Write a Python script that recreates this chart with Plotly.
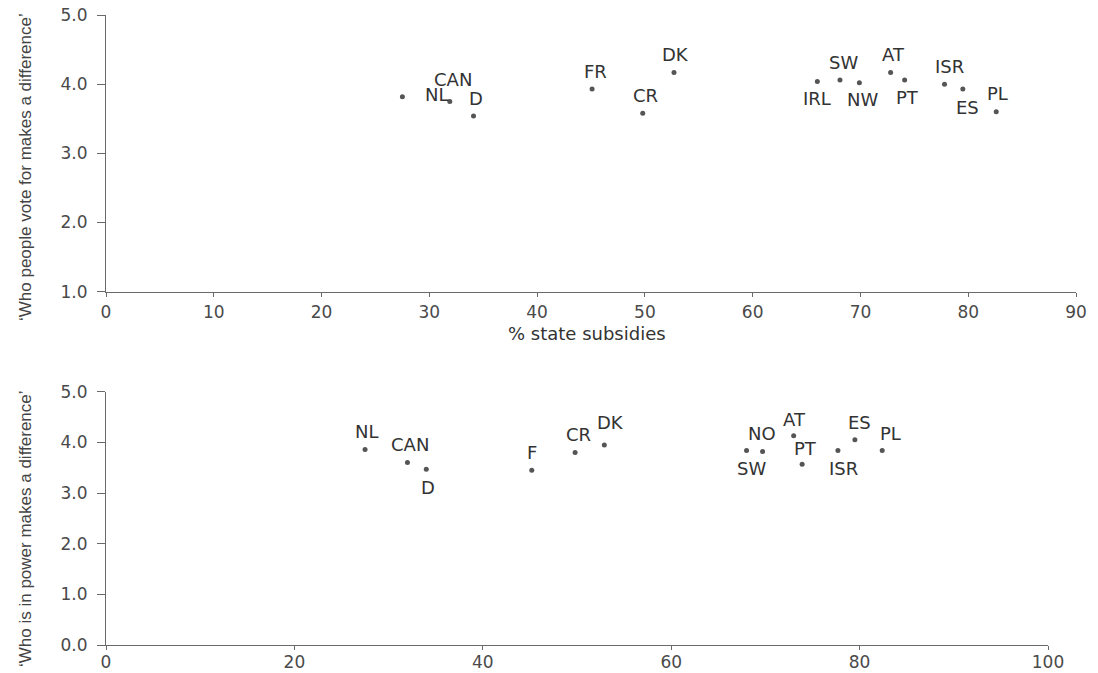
import plotly.graph_objects as go

# ---- Data: top panel ('Who people vote for makes a difference') ----
top_countries = ["NL", "CAN", "D", "FR", "DK", "CR", "IRL", "SW", "NW", "AT", "PT", "ISR", "ES", "PL"]
top_subsidy = [27.5, 31.9, 34.1, 45.1, 52.7, 49.8, 66.0, 68.1, 69.9, 72.8, 74.1, 77.8, 79.5, 82.6]
top_vote = [3.82, 3.75, 3.54, 3.93, 4.17, 3.58, 4.04, 4.06, 4.02, 4.17, 4.06, 4.00, 3.93, 3.60]

# ---- Data: bottom panel ('Who is in power makes a difference') ----
bot_countries = ["NL", "CAN", "D", "F", "CR", "DK", "SW", "NO", "AT", "PT", "ISR", "ES", "PL"]
bot_subsidy = [27.5, 32.0, 34.0, 45.2, 49.8, 52.9, 68.0, 69.7, 73.0, 73.9, 77.7, 79.5, 82.4]
bot_power = [3.86, 3.60, 3.47, 3.45, 3.80, 3.95, 3.84, 3.82, 4.13, 3.57, 3.84, 4.05, 3.84]

top_xticks = [0, 10, 20, 30, 40, 50, 60, 70, 80, 90]
top_yticks = [1.0, 2.0, 3.0, 4.0, 5.0]
bot_xticks = [0, 20, 40, 60, 80, 100]
bot_yticks = [0.0, 1.0, 2.0, 3.0, 4.0, 5.0]

x_title = "% state subsidies"
top_ytitle = "\u2018Who people vote for makes a difference\u2019"
bot_ytitle = "\u2018Who is in power makes a difference\u2019"

# label offsets in pixels (xshift, yshift) relative to marker
top_offsets = {"NL": (35, 2), "CAN": (3, 22), "D": (2, 18), "FR": (3, 18), "DK": (2, 18),
               "CR": (3, 18), "IRL": (0, -17), "SW": (4, 18), "NW": (3, -17), "AT": (3, 18),
               "PT": (3, -17), "ISR": (5, 18), "ES": (5, -18), "PL": (1, 18)}
bot_offsets = {"NL": (2, 18), "CAN": (3, 18), "D": (2, -18), "F": (0, 18), "CR": (3, 18),
               "DK": (6, 22), "SW": (5, -18), "NO": (-1, 18), "AT": (1, 16), "PT": (3, 16),
               "ISR": (6, -18), "ES": (5, 17), "PL": (8, 17)}

# The page body has an 8px margin; size the figure to fit the 1098x673 window.
OFF = 8
W, H = 1098 - OFF, 673 - OFF


def px(x):
    return (x - OFF) / W


def py(y):
    return 1 - (y - OFF) / H


AXIS_COLOR = "#6a6a6a"
TICK_FONT = dict(family="DejaVu Sans", size=17, color="#4a4a4a")
LABEL_FONT = dict(family="DejaVu Sans", size=18, color="#333333")
TITLE_FONT = dict(family="Liberation Sans", size=17, color="#444444")

fig = go.Figure()
fig.add_trace(go.Scatter(x=top_subsidy, y=top_vote, mode="markers",
                         marker=dict(size=5, color="#555555"), xaxis="x", yaxis="y",
                         hoverinfo="skip", showlegend=False))
fig.add_trace(go.Scatter(x=bot_subsidy, y=bot_power, mode="markers",
                         marker=dict(size=5, color="#555555"), xaxis="x2", yaxis="y2",
                         hoverinfo="skip", showlegend=False))

annotations = []
for c, xv, yv in zip(top_countries, top_subsidy, top_vote):
    dx, dy = top_offsets[c]
    annotations.append(dict(x=xv, y=yv, xref="x", yref="y", text=c, showarrow=False,
                            xshift=dx, yshift=dy, font=LABEL_FONT))
for c, xv, yv in zip(bot_countries, bot_subsidy, bot_power):
    dx, dy = bot_offsets[c]
    annotations.append(dict(x=xv, y=yv, xref="x2", yref="y2", text=c, showarrow=False,
                            xshift=dx, yshift=dy, font=LABEL_FONT))

annotations.append(dict(x=px(587), y=py(333), xref="paper", yref="paper", text=x_title,
                        showarrow=False, font=LABEL_FONT, xanchor="center", yanchor="middle"))
annotations.append(dict(x=px(25), y=py(167), xref="paper", yref="paper", text=top_ytitle,
                        showarrow=False, textangle=-90, font=TITLE_FONT,
                        xanchor="center", yanchor="middle"))
annotations.append(dict(x=px(25), y=py(529), xref="paper", yref="paper", text=bot_ytitle,
                        showarrow=False, textangle=-90, font=TITLE_FONT,
                        xanchor="center", yanchor="middle"))

common_x = dict(showgrid=False, zeroline=False, showline=True, linecolor=AXIS_COLOR, linewidth=1.2,
                ticks="outside", ticklen=4, tickcolor=AXIS_COLOR, tickwidth=1.2,
                tickfont=TICK_FONT, fixedrange=True, automargin=False,
                ticklabeloverflow="allow")
common_y = dict(showgrid=False, zeroline=False, showline=True, linecolor=AXIS_COLOR, linewidth=1.2,
                ticks="outside", ticklen=8, tickcolor=AXIS_COLOR, tickwidth=1.2,
                tickfont=TICK_FONT, ticklabelstandoff=6, tickformat=".1f", fixedrange=True,
                automargin=False, ticklabeloverflow="allow")

fig.update_layout(
    template="none",
    width=W, height=H,
    margin=dict(l=0, r=0, t=0, b=0, autoexpand=False),
    paper_bgcolor="white", plot_bgcolor="white",
    xaxis=dict(domain=[px(106), px(1076)], range=[0, 90], tickvals=top_xticks,
               anchor="y", ticklabelstandoff=1, **common_x),
    yaxis=dict(domain=[py(291.7), py(15)], range=[1, 5], tickvals=top_yticks,
               anchor="x", **common_y),
    xaxis2=dict(domain=[px(106), px(1048)], range=[0, 100], tickvals=bot_xticks,
                anchor="y2", ticklabelstandoff=-3, **common_x),
    yaxis2=dict(domain=[py(645), py(391.7)], range=[0, 5], tickvals=bot_yticks,
                anchor="x2", **common_y),
    annotations=annotations,
    showlegend=False,
)

fig.write_html("out.html")
